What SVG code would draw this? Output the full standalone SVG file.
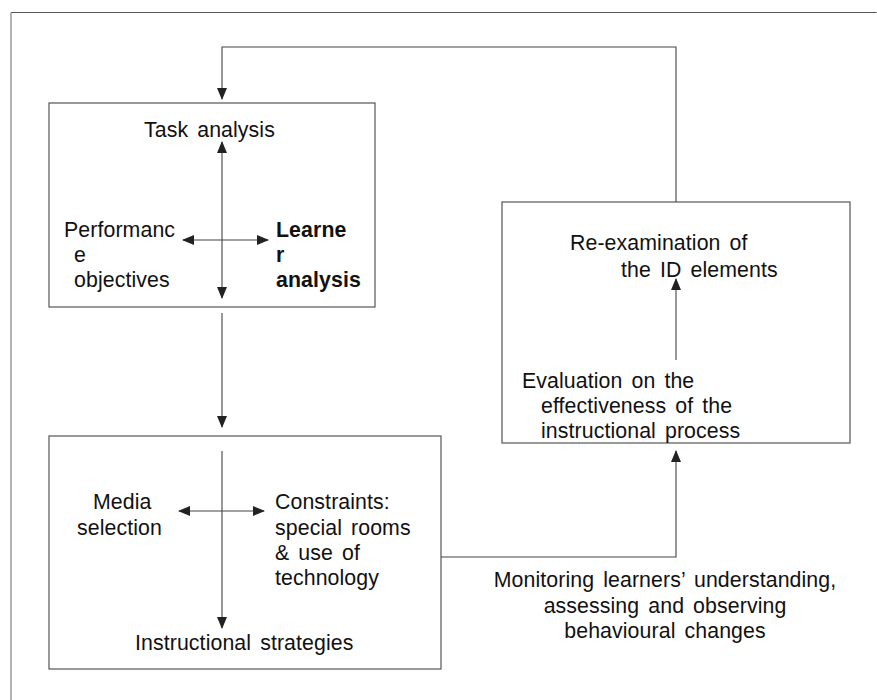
<svg xmlns="http://www.w3.org/2000/svg" width="877" height="700" viewBox="0 0 877 700">
<style>
.box{fill:none;stroke:#555;stroke-width:1.2}
.ln{fill:none;stroke:#444;stroke-width:1.1}
text{font-family:"Liberation Sans",Arial,sans-serif;font-size:21.3px;fill:#111;word-spacing:3px;letter-spacing:0.1px}
.b{font-weight:bold}
.m{text-anchor:middle}
</style>
<defs>
<marker id="ah" viewBox="0 0 12 10" refX="11" refY="5" markerWidth="12" markerHeight="10" markerUnits="userSpaceOnUse" orient="auto-start-reverse">
<path d="M0,0 L12,5 L0,10 Z" fill="#222"/>
</marker>
</defs>
<rect width="877" height="700" fill="#fff"/>
<g id="frame">
<line x1="11" y1="12.5" x2="876.5" y2="12.5" stroke="#555" stroke-width="1.2"/>
<line x1="11" y1="12.5" x2="11" y2="700" stroke="#999" stroke-width="1.5"/>
</g>
<g id="connectors">
<polyline class="ln" points="676,202 676,47 222,47 222,99" marker-end="url(#ah)"/>
<line class="ln" x1="222" y1="313" x2="222" y2="427" marker-end="url(#ah)"/>
<polyline class="ln" points="441,557 676,557 676,451" marker-end="url(#ah)"/>
<line class="ln" x1="676" y1="360" x2="676" y2="279" marker-end="url(#ah)"/>
<line class="ln" x1="222" y1="142" x2="222" y2="298" marker-start="url(#ah)" marker-end="url(#ah)"/>
<line class="ln" x1="183" y1="240" x2="268" y2="240" marker-start="url(#ah)" marker-end="url(#ah)"/>
<line class="ln" x1="222" y1="451" x2="222" y2="628" marker-end="url(#ah)"/>
<line class="ln" x1="179" y1="511" x2="264" y2="511" marker-start="url(#ah)" marker-end="url(#ah)"/>
</g>
<g id="analysis">
<rect class="box" x="49" y="103" width="326" height="204"/>
<text x="144" y="137">Task analysis</text>
<text x="64" y="237">Performanc</text>
<text x="74" y="262">e</text>
<text x="74" y="287">objectives</text>
<text class="b" x="276" y="237">Learne</text>
<text class="b" x="276" y="262">r</text>
<text class="b" x="276" y="287">analysis</text>
</g>
<g id="strategies">
<rect class="box" x="49" y="436" width="392" height="233"/>
<text x="93" y="509">Media</text>
<text x="77" y="535">selection</text>
<text x="275" y="509">Constraints:</text>
<text x="275" y="535">special rooms</text>
<text x="275" y="560">&amp; use of</text>
<text x="275" y="585">technology</text>
<text x="135" y="650">Instructional strategies</text>
</g>
<g id="evaluation">
<rect class="box" x="502" y="202" width="348" height="241"/>
<text x="570" y="250">Re-examination of</text>
<text x="621" y="277">the ID elements</text>
<text x="522" y="388">Evaluation on the</text>
<text x="541" y="413">effectiveness of the</text>
<text x="541" y="438">instructional process</text>
</g>
<g id="monitoring-label">
<text class="m" x="665" y="587">Monitoring learners’ understanding,</text>
<text class="m" x="665" y="613">assessing and observing</text>
<text class="m" x="665" y="638">behavioural changes</text>
</g>
</svg>
